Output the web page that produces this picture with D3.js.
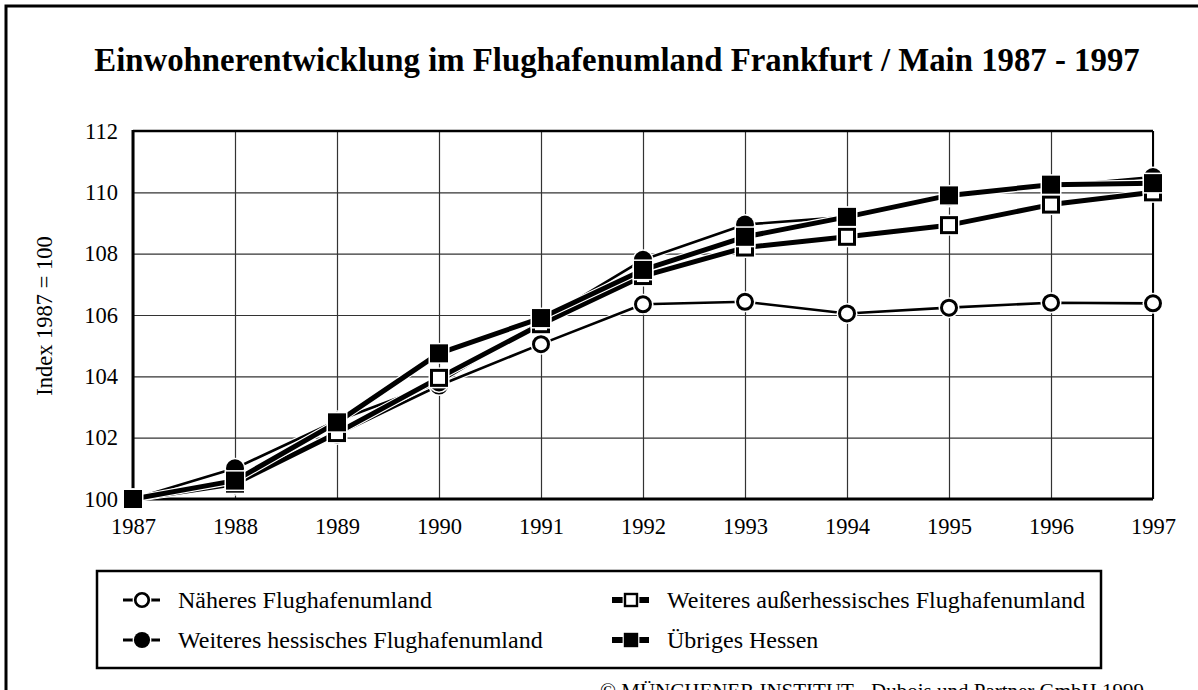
<!DOCTYPE html>
<html>
<head>
<meta charset="utf-8">
<script src="https://cdn.jsdelivr.net/npm/d3@7"></script>
<style>
  html, body { margin: 0; padding: 0; background: #fff; }
  svg { display: block; font-family: "Liberation Serif", "Times New Roman", serif; }
</style>
</head>
<body>
<svg id="chart" width="1198" height="690"></svg>
<script>
// ---- data ----
const years = [1987, 1988, 1989, 1990, 1991, 1992, 1993, 1994, 1995, 1996, 1997];
const naeheres   = [100, 100.45, 102.1, 103.7, 105.05, 106.35, 106.43, 106.05, 106.24, 106.4, 106.38];
const hessisch   = [100, 101.0, 102.55, 103.8, 105.8, 107.8, 108.95, 109.2, 109.85, 110.2, 110.5];
const ausser     = [100, 100.5, 102.15, 103.95, 105.7, 107.27, 108.2, 108.55, 108.93, 109.6, 110.0];
const uebrig     = [100, 100.6, 102.5, 104.75, 105.9, 107.47, 108.55, 109.2, 109.9, 110.25, 110.3];
const yTicks = [100, 102, 104, 106, 108, 110, 112];
const seriesNames = ["Näheres Flughafenumland", "Weiteres hessisches Flughafenumland",
                     "Weiteres außerhessisches Flughafenumland", "Übriges Hessen"];
const titleText = "Einwohnerentwicklung im Flughafenumland Frankfurt / Main 1987 - 1997";
const yAxisTitle = "Index 1987 = 100";
const copyright = "© MÜNCHENER INSTITUT - Dubois und Partner GmbH 1999";

const series = [
  { name: seriesNames[0], values: naeheres, marker: "openCircle",   lw: 2.6 },
  { name: seriesNames[1], values: hessisch, marker: "filledCircle", lw: 2.6 },
  { name: seriesNames[2], values: ausser,   marker: "openSquare",   lw: 5 },
  { name: seriesNames[3], values: uebrig,   marker: "filledSquare", lw: 5 }
];

const svg = d3.select("#chart");
const X0 = 133, X1 = 1153, Y0 = 131, Y1 = 499;
const x = d3.scaleLinear().domain([1987, 1997]).range([X0, X1]);
const y = d3.scaleLinear().domain([100, 112]).range([Y1, Y0]);

// outer frame
svg.append("rect").attr("x", 6).attr("y", 6).attr("width", 1300).attr("height", 800)
  .attr("fill", "none").attr("stroke", "#000").attr("stroke-width", 3);

// title
svg.append("text").attr("x", 617).attr("y", 71).attr("text-anchor", "middle")
  .attr("font-size", 32.8).attr("font-weight", "bold").text(titleText);

// gridlines
const gx = svg.append("g").attr("transform", `translate(0,${Y1})`)
  .call(d3.axisBottom(x).tickValues(years).tickSize(-(Y1 - Y0)).tickFormat(""));
const gy = svg.append("g").attr("transform", `translate(${X0},0)`)
  .call(d3.axisLeft(y).tickValues(yTicks).tickSize(-(X1 - X0)).tickFormat(""));
[gx, gy].forEach(g => {
  g.select(".domain").remove();
  g.selectAll("line").attr("stroke", "#333").attr("stroke-width", 1.2);
});

// tick labels
const lx = svg.append("g").attr("transform", `translate(0,${Y1})`)
  .call(d3.axisBottom(x).tickValues(years).tickSize(0).tickPadding(19).tickFormat(d3.format("d")));
const ly = svg.append("g").attr("transform", `translate(${X0},0)`)
  .call(d3.axisLeft(y).tickValues(yTicks).tickSize(0).tickPadding(15));
[lx, ly].forEach(g => {
  g.select(".domain").remove();
  g.selectAll("text").attr("font-size", 22.5).attr("font-family", "Liberation Serif").attr("fill", "#000");
});

// plot borders
svg.append("line").attr("x1", X0).attr("x2", X1).attr("y1", Y0).attr("y2", Y0).attr("stroke", "#000").attr("stroke-width", 2.5);
svg.append("line").attr("x1", X1).attr("x2", X1).attr("y1", Y0).attr("y2", Y1).attr("stroke", "#000").attr("stroke-width", 2);
svg.append("line").attr("x1", X0).attr("x2", X0).attr("y1", Y0 - 1).attr("y2", Y1 + 1.5).attr("stroke", "#000").attr("stroke-width", 3);
svg.append("line").attr("x1", X0).attr("x2", X1).attr("y1", Y1).attr("y2", Y1).attr("stroke", "#000").attr("stroke-width", 3);

// y axis title
svg.append("text").attr("transform", "translate(52,316) rotate(-90)").attr("text-anchor", "middle")
  .attr("font-size", 22.5).text(yAxisTitle);

// marker drawing
function drawMarker(g, type, cx, cy, s) {
  s = s || 1;
  if (type === "openCircle") {
    g.append("circle").attr("cx", cx).attr("cy", cy).attr("r", 10.5 * s).attr("fill", "#fff");
    g.append("circle").attr("cx", cx).attr("cy", cy).attr("r", 7.5 * s).attr("fill", "#fff")
      .attr("stroke", "#000").attr("stroke-width", 3 * s);
  } else if (type === "filledCircle") {
    g.append("circle").attr("cx", cx).attr("cy", cy).attr("r", 10.5 * s).attr("fill", "#fff");
    g.append("circle").attr("cx", cx).attr("cy", cy).attr("r", 9 * s).attr("fill", "#000");
  } else if (type === "openSquare") {
    const h = 10.5 * s, a = 7.5 * s;
    g.append("rect").attr("x", cx - h).attr("y", cy - h).attr("width", 2 * h).attr("height", 2 * h).attr("fill", "#fff");
    g.append("rect").attr("x", cx - a).attr("y", cy - a).attr("width", 2 * a).attr("height", 2 * a)
      .attr("fill", "#fff").attr("stroke", "#000").attr("stroke-width", 3 * s);
  } else {
    const h = 10.5 * s, a = 9 * s;
    g.append("rect").attr("x", cx - h).attr("y", cy - h).attr("width", 2 * h).attr("height", 2 * h).attr("fill", "#fff");
    g.append("rect").attr("x", cx - a).attr("y", cy - a).attr("width", 2 * a).attr("height", 2 * a).attr("fill", "#000");
  }
}

// series
const line = d3.line().x((d, i) => x(years[i])).y(d => y(d));
series.forEach(s => {
  const g = svg.append("g");
  g.append("path").attr("d", line(s.values)).attr("fill", "none").attr("stroke", "#fff")
    .attr("stroke-width", s.lw + 2.2).attr("stroke-linejoin", "round");
  g.append("path").attr("d", line(s.values)).attr("fill", "none").attr("stroke", "#000")
    .attr("stroke-width", s.lw).attr("stroke-linejoin", "round");
  s.values.forEach((v, i) => drawMarker(g, s.marker, x(years[i]), y(v)));
});

// legend
svg.append("rect").attr("x", 97).attr("y", 571).attr("width", 1004).attr("height", 97)
  .attr("fill", "#fff").attr("stroke", "#000").attr("stroke-width", 2.5);
const legendPos = [
  { sx: 142, tx: 178, y: 600 },
  { sx: 142, tx: 178, y: 640 },
  { sx: 631, tx: 667, y: 600 },
  { sx: 631, tx: 667, y: 640 }
];
series.forEach((s, i) => {
  const p = legendPos[i];
  const g = svg.append("g");
  const isSq = s.marker.indexOf("Square") >= 0;
  g.append("line").attr("x1", p.sx - 19).attr("x2", p.sx + 18).attr("y1", p.y).attr("y2", p.y)
    .attr("stroke", "#000").attr("stroke-width", isSq ? 6 : 3);
  drawMarker(g, s.marker, p.sx, p.y, isSq ? 0.8 : 0.9);
  g.append("text").attr("x", p.tx).attr("y", p.y).attr("dy", "0.33em").attr("font-size", 24).text(s.name);
});

// copyright
svg.append("text").attr("x", 600).attr("y", 698).attr("font-size", 21).text(copyright);
</script>
</body>
</html>
